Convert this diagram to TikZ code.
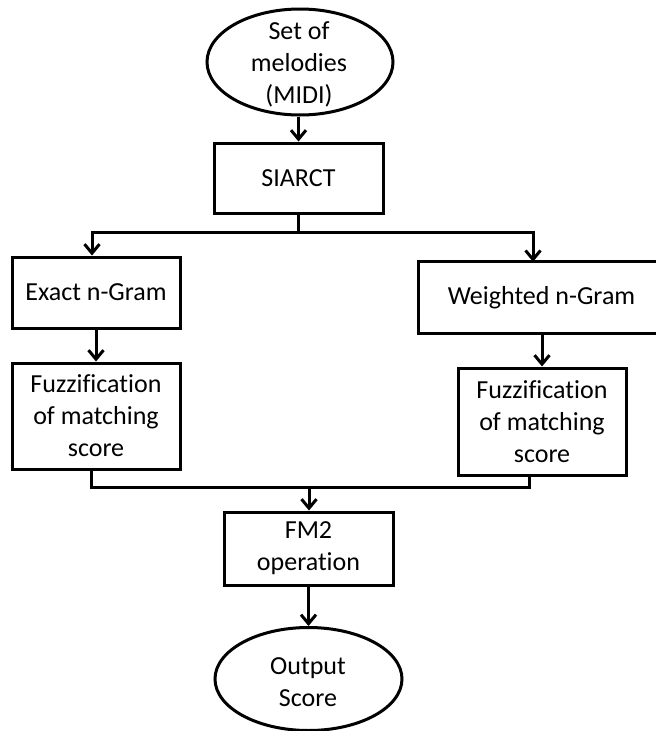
\documentclass[tikz,border=0pt]{standalone}
\usepackage{fontspec}
\setmainfont[Ligatures={NoCommon}]{Carlito}
\usetikzlibrary{shapes.geometric,arrows.meta}

\tikzset{
  flowline/.style={line width=3pt, line join=miter},
  arr/.style={flowline, -{Straight Barb[length=9pt,width=15pt,line width=3pt]}},
  procbox/.style={draw, flowline, rectangle, inner sep=0pt, align=center},
  termshape/.style={draw, flowline, ellipse, inner sep=0pt},
  label/.style={align=center, inner sep=0pt},
}

\begin{document}
\begin{tikzpicture}[x=1pt, y=-1pt, font=\fontsize{26}{32}\selectfont]
  \useasboundingbox (0,0) rectangle (656,731);
  \clip (0,0) rectangle (656,731);

  % start terminal
  \node[termshape, minimum width=186pt, minimum height=106pt] (top) at (300,62) {};
  \node[label] (toptext) at (299,64) {Set of\\melodies\\(MIDI)};

  % processing steps
  \node[procbox, minimum width=169pt, minimum height=70pt] (siarct) at (298.5,178) {SIARCT};
  \node[procbox, minimum width=168pt, minimum height=71pt] (exact) at (96,292.5) {Exact n-Gram};
  % this box runs off the right border, so only three sides are drawn
  \node[rectangle, inner sep=0pt, anchor=west, minimum width=280pt, minimum height=71pt] (weighted) at (418,297.5) {};
  \draw[flowline] (weighted.north east) -- (weighted.north west) -- (weighted.south west) -- (weighted.south east);
  \node[label] (weightedtext) at (541.5,297.5) {Weighted n-Gram};
  \node[procbox, minimum width=168pt, minimum height=106pt] (fuzzl) at (96,416) {Fuzzification\\of matching\\score};
  \node[procbox, minimum width=168pt, minimum height=107pt] (fuzzr) at (542,421.5) {Fuzzification\\of matching\\score};
  \node[procbox, minimum width=169pt, minimum height=73pt] (fm) at (308.5,548.5) {FM2\\operation};

  % end terminal
  \node[termshape, minimum width=187pt, minimum height=103pt] (out) at (308.5,679) {};
  \node[label] (outtext) at (308,682) {Output\\Score};

  % junction points
  \coordinate (split) at (298,232);
  \coordinate (merge) at (309,487);

  % connectors
  \draw[arr] (top.south -| siarct.north) -- (siarct.north);
  \draw[flowline] (siarct.south -| split) -- (split);
  \draw[arr] (split) -| ([xshift=-4pt]exact.north);
  \draw[arr] (split) -| (weighted.north -| 533,0);
  \draw[arr] (exact.south) -- (fuzzl.north);
  \draw[arr] (weighted.south -| fuzzr.north) -- (fuzzr.north);
  \draw[flowline] ([xshift=-5pt]fuzzl.south) |- (merge);
  \draw[flowline] ([xshift=-13pt]fuzzr.south) |- (merge);
  \draw[arr] (merge) -- (fm.north -| merge);
  \draw[arr] (fm.south) -- (out.north);
\end{tikzpicture}
\end{document}
